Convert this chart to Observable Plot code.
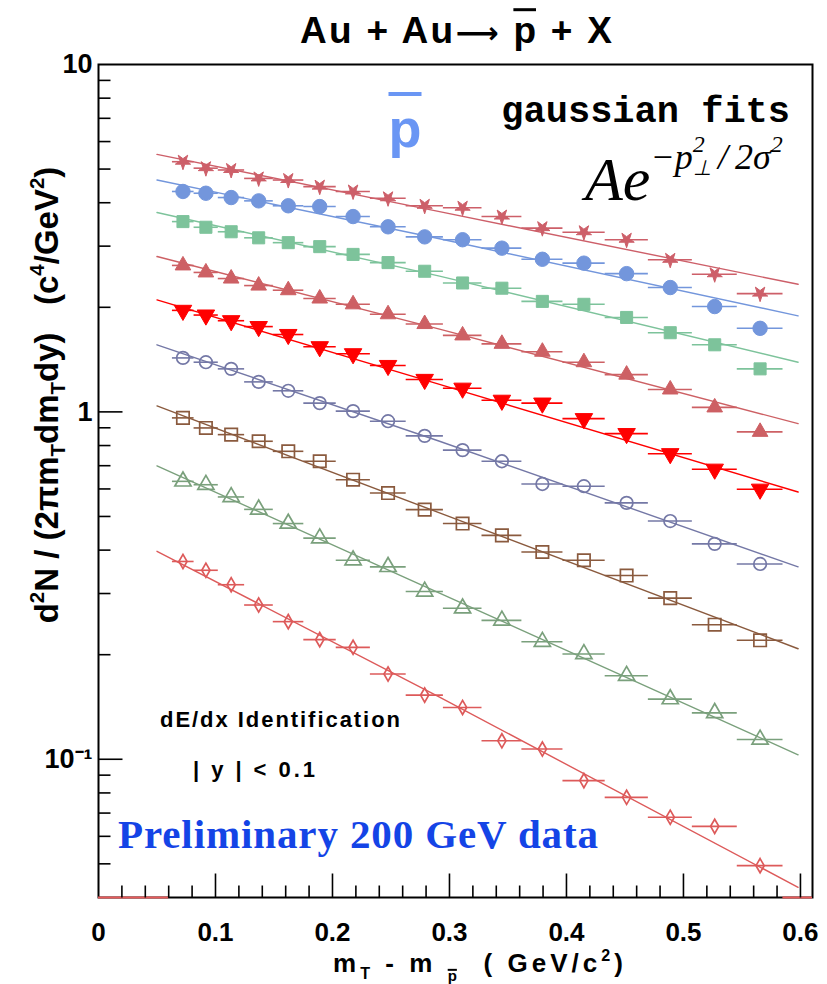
<!DOCTYPE html>
<html><head><meta charset="utf-8">
<script src="https://cdn.jsdelivr.net/npm/d3@7"></script>
<script src="https://cdn.jsdelivr.net/npm/@observablehq/plot@0.6"></script>
<style>body{margin:0;background:#fff}#chart{position:relative;width:827px;height:984px}</style>
</head><body><div id="chart"></div>
<script>
// ---------------- data ----------------
const xCenter = [0.0722,0.0918,0.1134,0.1369,0.1622,0.1891,0.2176,0.2475,0.2788,0.3112,0.3448,0.3794,0.4149,0.4514,0.4887,0.5267,0.5655];
const xLow    = [0.0632,0.0817,0.1024,0.1249,0.1494,0.1755,0.2032,0.2324,0.2630,0.2948,0.3278,0.3619,0.3970,0.4331,0.4700,0.5076,0.5460];
const xHigh   = [0.0817,0.1024,0.1249,0.1494,0.1755,0.2032,0.2324,0.2630,0.2948,0.3278,0.3619,0.3970,0.4331,0.4700,0.5076,0.5460,0.5851];

const yStar       = [5.25,5.03,4.97,4.70,4.65,4.45,4.31,4.12,3.92,3.87,3.65,3.38,3.29,3.13,2.74,2.49,2.19];
const yCircle     = [4.31,4.26,4.14,4.05,3.92,3.90,3.65,3.41,3.19,3.13,2.96,2.75,2.68,2.50,2.28,2.01,1.74];
const ySquare     = [3.53,3.40,3.30,3.17,3.07,2.99,2.84,2.69,2.54,2.35,2.27,2.08,2.04,1.87,1.69,1.56,1.33];
const yTriUp      = [2.64,2.52,2.42,2.31,2.24,2.12,2.04,1.91,1.79,1.66,1.57,1.49,1.39,1.28,1.16,1.03,0.876];
const yTriDown    = [1.96,1.90,1.83,1.76,1.67,1.54,1.47,1.36,1.24,1.17,1.08,1.06,0.956,0.866,0.758,0.684,0.599];
const yOpenCircle = [1.43,1.39,1.33,1.22,1.15,1.06,1.005,0.940,0.853,0.776,0.721,0.620,0.611,0.547,0.485,0.417,0.365];
const yOpenSquare = [0.961,0.899,0.860,0.823,0.770,0.721,0.638,0.584,0.523,0.477,0.441,0.395,0.374,0.338,0.291,0.244,0.220];
const yOpenTri    = [0.631,0.617,0.569,0.524,0.477,0.433,0.374,0.358,0.304,0.272,0.251,0.218,0.201,0.174,0.149,0.136,0.114];
const yDiamond    = [0.371,0.350,0.318,0.278,0.249,0.221,0.210,0.176,0.153,0.141,0.113,0.107,0.0868,0.0777,0.0681,0.0641,0.0494];

// gaussian fit curves, read at start, middle and end
const fitX          = [0.050, 0.2915, 0.598];
const fitStar       = [5.51, 3.77, 2.33];
const fitCircle     = [4.65, 3.15, 1.89];
const fitSquare     = [3.75, 2.46, 1.39];
const fitTriUp      = [2.80, 1.73, 0.925];
const fitTriDown    = [2.10, 1.20, 0.588];
const fitOpenCircle = [1.56, 0.823, 0.358];
const fitOpenSquare = [1.04, 0.512, 0.208];
const fitOpenTri    = [0.699, 0.301, 0.103];
const fitDiamond    = [0.397, 0.151, 0.0428];

// axes
const xTickLabels = [0, 0.1, 0.2, 0.3, 0.4, 0.5, 0.6];
const xMajorTicks = [0.1, 0.2, 0.3, 0.4, 0.5, 0.6];
const xMinorTicks = [0.02,0.04,0.06,0.08,0.12,0.14,0.16,0.18,0.22,0.24,0.26,0.28,0.32,0.34,0.36,0.38,0.42,0.44,0.46,0.48,0.52,0.54,0.56,0.58];
const yTickLabels = [0.1, 1, 10];
const yMajorTicks = [0.1, 1];
const yMinorTicks = [0.05,0.06,0.07,0.08,0.09,0.2,0.3,0.4,0.5,0.6,0.7,0.8,0.9,2,3,4,5,6,7,8,9];
const axisRedSegments = [{x1: 0, x2: 0.06}, {x1: 0.585, x2: 0.6103}];

// ---------------- symbols ----------------
const tau = 2 * Math.PI;
const triDown = {draw(ctx, size) {
  const s3 = Math.sqrt(3), y = Math.sqrt(size / (s3 * 3));
  ctx.moveTo(0, 2 * y); ctx.lineTo(-s3 * y, -y); ctx.lineTo(s3 * y, -y); ctx.closePath();
}};
const starDown = {draw(ctx, size) {
  const ka = 0.8908130915292852, kr = Math.sin(Math.PI / 10) / Math.sin(7 * Math.PI / 10);
  const kx = Math.sin(tau / 10) * kr, ky = -Math.cos(tau / 10) * kr;
  const r = Math.sqrt(size * ka), x = kx * r, y = ky * r;
  ctx.moveTo(0, r); ctx.lineTo(x, -y);
  for (let i = 1; i < 5; ++i) {
    const a = tau * i / 5, c = Math.cos(a), s = Math.sin(a);
    ctx.lineTo(s * r, c * r); ctx.lineTo(c * x - s * y, -(s * x + c * y));
  }
  ctx.closePath();
}};
const tickSym = (dx, dy) => ({draw(ctx) { ctx.moveTo(0, 0); ctx.lineTo(dx, dy); }});

// ---------------- series styles ----------------
const series = [
  {y: yStar,       fit: fitStar,       color: "#cd5f69", symbol: starDown,   r: 4.8, filled: true},
  {y: yCircle,     fit: fitCircle,     color: "#7396dc", symbol: "circle",   r: 7.2, filled: true},
  {y: ySquare,     fit: fitSquare,     color: "#7dc39b", symbol: "square",   r: 6.8, filled: true},
  {y: yTriUp,      fit: fitTriUp,      color: "#cd6064", symbol: "triangle", r: 5.8, filled: true},
  {y: yTriDown,    fit: fitTriDown,    color: "#ff0000", symbol: triDown,    r: 6.5, filled: true},
  {y: yOpenCircle, fit: fitOpenCircle, color: "#7478a6", symbol: "circle",   r: 6.3, filled: false},
  {y: yOpenSquare, fit: fitOpenSquare, color: "#8a5a3e", symbol: "square",   r: 7.0, filled: false},
  {y: yOpenTri,    fit: fitOpenTri,    color: "#7aa07c", symbol: "triangle", r: 6.0, filled: false},
  {y: yDiamond,    fit: fitDiamond,    color: "#dd5a5a", symbol: "diamond",  r: 4.3, filled: false}
];

const SANS = "'Liberation Sans', Arial, Helvetica, sans-serif";
const marks = [];
marks.push(Plot.frame({stroke: "black", strokeWidth: 2}));
marks.push(Plot.ruleY(axisRedSegments, {y: () => 0.04, x1: "x1", x2: "x2", stroke: "#e85a5a", strokeWidth: 2}));
marks.push(Plot.dot(xMajorTicks, {x: d => d, frameAnchor: "bottom", symbol: tickSym(0, -24), r: 1, fill: "none", stroke: "black", strokeWidth: 1.6}));
marks.push(Plot.dot(xMinorTicks, {x: d => d, frameAnchor: "bottom", symbol: tickSym(0, -12), r: 1, fill: "none", stroke: "black", strokeWidth: 1.6}));
marks.push(Plot.dot(yMajorTicks, {y: d => d, frameAnchor: "left", symbol: tickSym(24, 0), r: 1, fill: "none", stroke: "black", strokeWidth: 1.6}));
marks.push(Plot.dot(yMinorTicks, {y: d => d, frameAnchor: "left", symbol: tickSym(12, 0), r: 1, fill: "none", stroke: "black", strokeWidth: 1.6}));

for (const s of series) {
  const fitRows = fitX.map((x, i) => ({x, y: s.fit[i]}));
  const rows = xCenter.map((x, i) => ({x, x1: xLow[i], x2: xHigh[i], y: s.y[i]}));
  marks.push(Plot.line(fitRows, {x: "x", y: "y", curve: "natural", stroke: s.color, strokeWidth: 1.4}));
  marks.push(Plot.ruleY(rows, {y: "y", x1: "x1", x2: "x2", stroke: s.color, strokeWidth: 1.6}));
  marks.push(Plot.dot(rows, {x: "x", y: "y", symbol: s.symbol, r: s.r,
    fill: s.filled ? s.color : "none", stroke: s.color, strokeWidth: s.filled ? 1 : 1.7}));
}

marks.push(Plot.axisX({ticks: xTickLabels, tickSize: 0, tickPadding: 25, label: null,
  tickFormat: d => d === 0 ? "0" : d.toFixed(1), fontSize: 26, fontWeight: "bold", fontFamily: SANS}));
marks.push(Plot.axisY({ticks: yTickLabels, tickSize: 0, tickPadding: 6, label: null,
  tickFormat: d => d === 0.1 ? "10\u207B\u00B9" : String(d), fontSize: 27, fontWeight: "bold", fontFamily: SANS}));

const plot = Plot.plot({
  width: 827, height: 984,
  marginLeft: 98, marginRight: 15, marginTop: 64, marginBottom: 87,
  style: {background: "white", color: "black"},
  x: {domain: [0, 0.6103]},
  y: {type: "log", domain: [0.04, 10]},
  marks
});
document.getElementById("chart").append(plot);

// ---------------- text annotations ----------------
const svg = d3.select(plot);
function rich(x, y, parts, o) {
  const size = o.size;
  const g = svg.append("g");
  if (o.transform) g.attr("transform", o.transform);
  const t = g.append("text").attr("x", x).attr("y", y)
    .attr("font-size", size).attr("font-family", o.family || SANS)
    .attr("font-weight", o.weight || "normal").attr("font-style", o.style || "normal")
    .attr("fill", o.fill || "black").attr("text-anchor", o.anchor || "start");
  let cur = 0, prev = null; const overs = [];
  for (const p of parts) {
    const s = p.size || (p.v ? size * 0.62 : size);
    const target = p.v === "sup" ? -(p.shift ?? 0.42) * size : p.v === "sub" ? (p.shift ?? 0.22) * size : 0;
    const ts = t.append("tspan").attr("dy", target - cur).attr("font-size", s).text(p.t);
    cur = target;
    if (p.italic) ts.attr("font-style", "italic");
    if (p.family) ts.attr("font-family", p.family);
    if (p.weight) ts.attr("font-weight", p.weight);
    if (p.stackBack && prev) ts.attr("dx", -prev.node().getComputedTextLength());
    if (p.over) overs.push([ts, s, p.over, p.overW || 2]);
    prev = ts;
  }
  if (o.textLength) t.attr("textLength", o.textLength).attr("lengthAdjust", "spacing");
  for (const [ts, s, k, w] of overs) {
    const n = ts.node();
    const a = n.getStartPositionOfChar(0), b = n.getEndPositionOfChar(n.getNumberOfChars() - 1);
    g.append("line").attr("x1", a.x).attr("x2", b.x).attr("y1", a.y - k * s).attr("y2", a.y - k * s)
      .attr("stroke", o.fill || "black").attr("stroke-width", w);
  }
  return t;
}

// title
rich(456, 43, [{t: "Au + Au"}, {t: "\u27F6", family: "'DejaVu Sans', sans-serif", size: 30}, {t: " "}, {t: "p", over: 0.9, overW: 3}, {t: " + X"}],
  {size: 37, weight: "bold", anchor: "middle", textLength: 312});
// blue pbar
rich(405, 147, [{t: "p", over: 0.98, overW: 4}], {size: 54, weight: "bold", anchor: "middle", fill: "#6a96f4"});
// gaussian fits
rich(790, 122, [{t: "gaussian fits"}], {size: 37, weight: "bold", anchor: "end", family: "'Liberation Mono', 'Courier New', monospace"});
// formula
{
  const SERIF = "'Liberation Serif', 'Times New Roman', serif";
  rich(585, 200, [
    {t: "Ae"},
    {t: "\u2212p", size: 36, v: "sup", shift: 0.5},
    {t: "2", size: 24, v: "sup", shift: 0.78},
    {t: "\u22A5", size: 21, v: "sup", shift: 0.4, stackBack: true},
    {t: "\u2009/\u20092\u03C3", size: 36, v: "sup", shift: 0.5},
    {t: "2", size: 24, v: "sup", shift: 0.78}
  ], {size: 62, style: "italic", family: SERIF});
}
// identification text
rich(160, 727, [{t: "dE/dx Identification"}], {size: 22, weight: "bold", textLength: 240});
rich(193, 777, [{t: "| y | < 0.1"}], {size: 22, weight: "bold", textLength: 122});
rich(118, 848, [{t: "Preliminary 200 GeV data"}], {size: 41, weight: "bold", fill: "#1444e6",
  family: "'Liberation Serif', 'Times New Roman', serif", textLength: 480});
// x axis label
rich(333, 972, [{t: "m"}, {t: "T", v: "sub", shift: 0.25}, {t: " - m\u00a0"}, {t: "p", v: "sub", size: 15, shift: 0.35, over: 0.75, overW: 2},
  {t: "\u00a0\u00a0( GeV/c"}, {t: "2", v: "sup"}, {t: ")"}], {size: 26, weight: "bold", textLength: 290});
// y axis label
rich(0, 0, [{t: "d"}, {t: "2", v: "sup"}, {t: "N / (2"}, {t: "\u03C0"}, {t: "m"}, {t: "T", v: "sub"}, {t: "dm"}, {t: "T", v: "sub"}, {t: "dy)"},
  {t: "\u00a0\u00a0\u00a0(c"}, {t: "4", v: "sup"}, {t: "/GeV"}, {t: "2", v: "sup"}, {t: ")"}],
  {size: 33, weight: "bold", anchor: "middle", transform: "translate(58,395) rotate(-90)"});
</script>
</body></html>
